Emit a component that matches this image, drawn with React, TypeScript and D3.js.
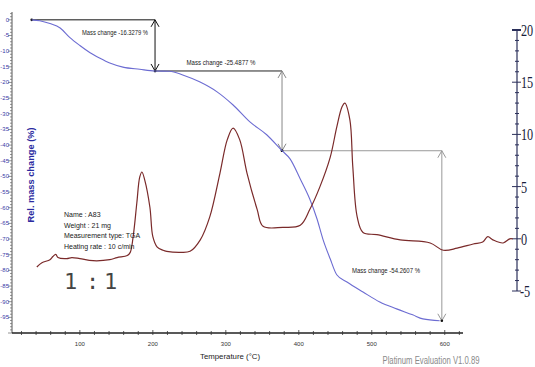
import React from "react";
import * as d3 from "d3";

// ---- data ----
const tgaTemp = [34, 45, 59, 73, 86, 100, 114, 127, 141, 159, 182, 203, 223, 241, 264, 288, 310, 333, 356, 377, 388, 402, 415, 425, 433, 443, 452, 466, 488, 511, 534, 556, 570, 593];
const tgaMass = [0, -0.3, -1.2, -2.6, -5.6, -8.2, -10.5, -12.2, -13.8, -15.1, -15.8, -16.33, -16.4, -17.6, -19.8, -23.0, -27.2, -32.6, -36.7, -41.8, -44.4, -50.8, -57.2, -63.6, -70.0, -76.3, -81.4, -83.7, -86.9, -90.1, -92.3, -94.2, -95.5, -96.1];

const dscTemp = [41, 48, 59, 63, 67, 70, 82, 89, 100, 118, 141, 151, 165, 169, 173, 178, 182, 185, 189, 196, 200, 206, 214, 219, 237, 251, 265, 278, 292, 302, 310, 319, 329, 343, 351, 378, 402, 415, 429, 443, 452, 459, 463, 470, 474, 480, 488, 507, 539, 580, 598, 617, 639, 652, 659, 666, 680, 689, 693];
const dscHeat = [-2.7, -2.3, -2.0, -1.7, -1.5, -1.8, -1.9, -1.8, -1.9, -2.1, -2.0, -1.8, -1.6, -1.3, 0.2, 3.4, 5.9, 6.4, 5.6, 3.0, 0.2, -0.8, -1.1, -1.2, -1.3, -1.2, -0.1, 2.1, 6.3, 9.5, 10.6, 9.5, 6.3, 2.8, 1.2, 1.1, 1.3, 2.8, 5.0, 7.8, 10.7, 12.6, 13.0, 11.4, 6.9, 2.1, 0.6, 0.4, -0.1, -0.4, -1.1, -0.9, -0.5, -0.3, 0.2, -0.1, -0.4, 0.0, 0.0];

const xTicks = [100, 200, 300, 400, 500, 600];
const leftTicks = [0, -5, -10, -15, -20, -25, -30, -35, -40, -45, -50, -55, -60, -65, -70, -75, -80, -85, -90, -95];
const rightTicks = [20, 15, 10, 5, 0, -5];

// mass change steps
const stepStart = [34, 203, 377];
const stepArrowT = [203, 377, 596];
const stepFrom = [0, -16.33, -41.8];
const stepTo = [-16.33, -41.8, -96.1];
const stepLabels = ["Mass change -16.3279 %", "Mass change -25.4877 %", "Mass change -54.2607 %"];

const infoLines = ["Name : A83", "Weight : 21 mg", "Measurement type:  TGA", "Heating rate : 10 c/min"];

export default function App() {
  const W = 535, H = 367;
  const x = d3.scaleLinear().domain([7, 625]).range([12, 463]);
  const yL = d3.scaleLinear().domain([-100, 2.5]).range([333, 12]);
  const yR = d3.scaleLinear().domain([-5, 20]).range([291, 30]);

  const tgaLine = d3.line<number>().x((_, i) => x(tgaTemp[i])).y((d) => yL(d)).curve(d3.curveMonotoneX);
  const dscLine = d3.line<number>().x((_, i) => x(dscTemp[i])).y((d) => yR(d)).curve(d3.curveCatmullRom.alpha(0.5));

  const leftMinor = d3.range(-100, 3, 1);
  const rightMinor = d3.range(-5, 21, 1);
  const xMinor = d3.range(20, 625, 20);

  const stepLineColor = ["#111", "#222", "#999"];
  const stepVColor = ["#111", "#888", "#999"];
  const labelPos = [
    { cx: 115, y: 35, w: 66 },
    { cx: 221, y: 65, w: 69 },
    { cx: 386, y: 273, w: 68 },
  ];

  const arrowHead = (px: number, py: number, dir: number, color: string, key: string) => (
    <path key={key} d={`M${px - 4},${py + dir * 7} L${px},${py} L${px + 4},${py + dir * 7}`} fill="none" stroke={color} strokeWidth={1} />
  );

  return (
    <svg width={W} height={H} style={{ position: "absolute", left: 0, top: 0, background: "#fff" }} fontFamily="'Liberation Sans', Arial, sans-serif">
      <rect width={W} height={H} fill="#fff" />

      {/* left axis */}
      <line x1={12} x2={12} y1={12} y2={333} stroke="#555" strokeWidth={1} />
      {leftMinor.map((v) => (
        <line key={"lm" + v} x1={v % 5 === 0 ? 8 : 10} x2={12} y1={yL(v)} y2={yL(v)} stroke="#666" strokeWidth={0.7} />
      ))}
      {leftTicks.map((v) => (
        <text key={"lt" + v} x={9} y={yL(v) + 2} fontSize={6} fill="#3a3aa8" textAnchor="end">{v}</text>
      ))}
      <text transform={`translate(34,175) rotate(-90)`} fontSize={8.5} fontWeight="bold" fill="#2a2aa0" textAnchor="middle" textLength={95} lengthAdjust="spacingAndGlyphs">Rel. mass change (%)</text>

      {/* x axis */}
      <line x1={12} x2={463} y1={333} y2={333} stroke="#222" strokeWidth={1.3} />
      {xMinor.map((t) => (
        <line key={"xm" + t} x1={x(t)} x2={x(t)} y1={t % 100 === 0 ? 330 : 331} y2={335} stroke="#333" strokeWidth={0.8} />
      ))}
      {xTicks.map((t) => (
        <text key={"xt" + t} x={x(t)} y={346} fontSize={6} fill="#333" textAnchor="middle">{t}</text>
      ))}
      <text x={230} y={359} fontSize={8} fill="#222" textAnchor="middle" textLength={60} lengthAdjust="spacingAndGlyphs">Temperature (°C)</text>

      {/* right axis */}
      <line x1={517} x2={517} y1={yR(20)} y2={yR(-5)} stroke="#2a2f5a" strokeWidth={1.2} />
      {rightMinor.map((v) => (
        <line key={"rm" + v} x1={v % 5 === 0 ? 512 : 515} x2={v % 5 === 0 ? 521 : 519} y1={yR(v)} y2={yR(v)} stroke="#2a2f5a" strokeWidth={v === 20 ? 2 : 1} />
      ))}
      {rightTicks.map((v) => {
        const tx = v < 0 ? 520 : 521;
        return (
          <text key={"rt" + v} x={tx} y={yR(v) + 6} fontSize={17} fill="#1a1d3a" fontFamily="'Liberation Serif', serif"
            transform={`translate(${tx},0) scale(0.72,1) translate(${-tx},0)`}>{v < 0 ? "-" + Math.abs(v) : v}</text>
        );
      })}

      {/* mass change annotations */}
      {stepStart.map((s, i) => {
        const xa = x(stepArrowT[i]);
        const y1 = yL(stepFrom[i]);
        const y2 = yL(stepTo[i]);
        return (
          <g key={"st" + i}>
            <line x1={x(s)} x2={xa} y1={y1} y2={y1} stroke={stepLineColor[i]} strokeWidth={1} />
            <line x1={xa} x2={xa} y1={y1} y2={y2} stroke={stepVColor[i]} strokeWidth={1} />
            {arrowHead(xa, y1, 1, stepVColor[i], "a1" + i)}
            {arrowHead(xa, y2, -1, stepVColor[i], "a2" + i)}
            <circle cx={x(s)} cy={y1} r={1.3} fill="#111" />
            <circle cx={xa} cy={y2} r={1.3} fill="#111" />
            <text x={labelPos[i].cx} y={labelPos[i].y} fontSize={7} fill="#222" textAnchor="middle" textLength={labelPos[i].w} lengthAdjust="spacingAndGlyphs">{stepLabels[i]}</text>
          </g>
        );
      })}

      {/* curves */}
      <path d={tgaLine(tgaMass) || ""} fill="none" stroke="#6c6cd2" strokeWidth={1.1} />
      <path d={dscLine(dscHeat) || ""} fill="none" stroke="#7a2a2a" strokeWidth={1.2} />

      {/* info text */}
      {infoLines.map((t, i) => (
        <text key={"in" + i} x={64} y={217 + i * 10.5} fontSize={7} fill="#222">{t}</text>
      ))}
      <text x={64} y={289} fontSize={22} fill="#444" fontFamily="'DejaVu Sans Mono', monospace">1</text>
      <text x={86} y={289} fontSize={22} fill="#444" fontFamily="'DejaVu Sans Mono', monospace">:</text>
      <text x={104} y={289} fontSize={22} fill="#444" fontFamily="'DejaVu Sans Mono', monospace">1</text>

      <text x={431} y={364} fontSize={10} fill="#8a8a8a" textAnchor="middle" textLength={97} lengthAdjust="spacingAndGlyphs">Platinum Evaluation V1.0.89</text>
    </svg>
  );
}
